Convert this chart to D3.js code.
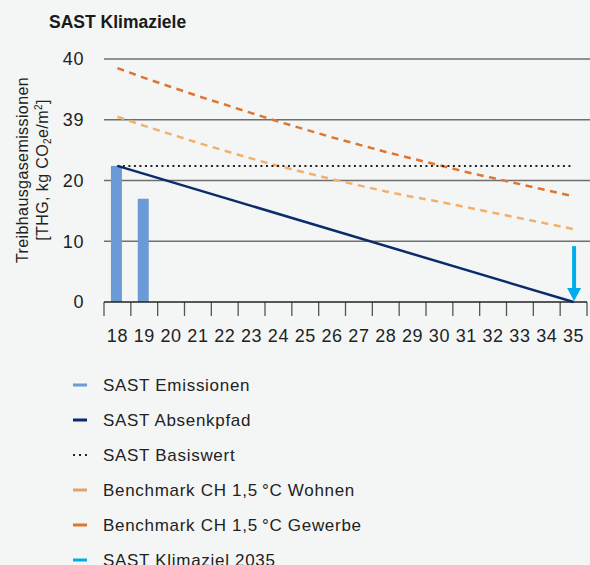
<!DOCTYPE html>
<html><head><meta charset="utf-8">
<script src="https://cdn.jsdelivr.net/npm/d3@7"></script>
<style>
html,body{margin:0;padding:0;background:#f4f6f6;}
svg{display:block;font-family:"Liberation Sans",Arial,sans-serif;}
</style></head>
<body><svg id="c" width="590" height="565"></svg>
<script>
const years = [18,19,20,21,22,23,24,25,26,27,28,29,30,31,32,33,34,35];
const yTickValues = [0,10,20,30,40];
const yTickLabels = ["0","10","20","39","40"];
const emissionYears = [18,19];
const emissionValues = [22.4,17.0];
const pfadYears = [18,35];
const pfadValues = [22.4,0];
const basisYears = [18,35];
const basisValues = [22.4,22.4];
const wohnenValues = [30.5,29.0,27.6,26.2,24.9,23.6,22.4,21.3,20.2,19.2,18.2,17.3,16.5,15.6,14.7,13.8,12.9,12.0];
const gewerbeValues = [38.5,36.9,35.4,33.9,32.5,31.1,29.7,28.4,27.1,25.9,24.7,23.6,22.5,21.4,20.4,19.4,18.4,17.4];
const zielYear = 35;
const zielValues = [9.2,0];
const legendLabels = ["SAST Emissionen","SAST Absenkpfad","SAST Basiswert","Benchmark CH 1,5\u2009°C Wohnen","Benchmark CH 1,5\u2009°C Gewerbe","SAST Klimaziel 2035"];

const C = {em:"#6b9bd6", pfad:"#0b2c6b", basis:"#222", wohnen:"#f3b06c", gewerbe:"#de7530", ziel:"#00adec"};

const svg = d3.select("#c");
const x = d3.scaleBand().domain(years).range([104,587]).padding(0);
const y = d3.scaleLinear().domain([0,40]).range([302,59]);
const cx = d => x(d) + x.bandwidth()/2;

// title
svg.append("text").attr("x",49).attr("y",28).attr("font-weight","bold").attr("font-size",17.5)
  .attr("fill","#1a1a1a").text("SAST Klimaziele");

// grid
const yAxis = d3.axisLeft(y).tickValues(yTickValues).tickSize(0).tickPadding(0)
  .tickFormat((d,i)=>yTickLabels[i]);
const gy = svg.append("g").attr("transform","translate(104,0)").call(yAxis);
gy.select(".domain").remove();
gy.selectAll("text").attr("x",-20).attr("font-size",18).attr("fill","#222").attr("letter-spacing",0.6)
  .attr("font-family","'Liberation Sans',Arial,sans-serif");
svg.append("g").selectAll("line").data(yTickValues.filter(d=>d>0)).join("line")
  .attr("x1",104).attr("x2",590).attr("y1",d=>y(d)).attr("y2",d=>y(d))
  .attr("stroke","#6e6e6e").attr("stroke-width",1.3);

// bars
svg.append("g").selectAll("rect").data(emissionYears).join("rect")
  .attr("x",(d)=>cx(d)-6.5).attr("width",11)
  .attr("y",(d,i)=>y(emissionValues[i])).attr("height",(d,i)=>y(0)-y(emissionValues[i]))
  .attr("fill",C.em);

// x axis
const xAxis = d3.axisBottom(x).tickSize(0).tickPadding(0);
const gx = svg.append("g").attr("transform","translate(0,302)").call(xAxis);
gx.select(".domain").remove();
gx.selectAll("text").attr("y",40).attr("dy",0).attr("font-size",18).attr("fill","#222").attr("letter-spacing",0.6)
  .attr("font-family","'Liberation Sans',Arial,sans-serif");
const bounds = years.map(d=>x(d)).concat([x(years[years.length-1])+x.bandwidth()]);
svg.append("g").selectAll("line").data(bounds).join("line")
  .attr("x1",d=>d).attr("x2",d=>d).attr("y1",302).attr("y2",316)
  .attr("stroke","#555").attr("stroke-width",1.3);
svg.append("line").attr("x1",104).attr("x2",587).attr("y1",y(0)).attr("y2",y(0))
  .attr("stroke","#222").attr("stroke-width",1.5);

// lines
const line = d3.line().x(d=>cx(d[0])).y(d=>y(d[1]));
svg.append("path").attr("d",line(years.map((d,i)=>[d,wohnenValues[i]])))
  .attr("fill","none").attr("stroke",C.wohnen).attr("stroke-width",2.5).attr("stroke-dasharray","7,5.5");
svg.append("path").attr("d",line(years.map((d,i)=>[d,gewerbeValues[i]])))
  .attr("fill","none").attr("stroke",C.gewerbe).attr("stroke-width",2.5).attr("stroke-dasharray","7,5.5");
svg.append("path").attr("d",line(basisYears.map((d,i)=>[d,basisValues[i]])))
  .attr("fill","none").attr("stroke",C.basis).attr("stroke-width",2).attr("stroke-dasharray","2,3.5");
svg.append("path").attr("d",line(pfadYears.map((d,i)=>[d,pfadValues[i]])))
  .attr("fill","none").attr("stroke",C.pfad).attr("stroke-width",2.5);

// arrow
const ax = cx(zielYear)+0.5;
svg.append("line").attr("x1",ax).attr("x2",ax).attr("y1",y(zielValues[0])).attr("y2",y(zielValues[1])-12)
  .attr("stroke",C.ziel).attr("stroke-width",4);
svg.append("path").attr("d",`M${ax-7},${y(zielValues[1])-14}L${ax+7},${y(zielValues[1])-14}L${ax},${y(zielValues[1])-1}Z`)
  .attr("fill",C.ziel);

// y title
const yt = svg.append("text").attr("transform","translate(28,170) rotate(-90)").attr("text-anchor","middle")
  .attr("font-size",16).attr("fill","#222").attr("letter-spacing",0.4);
yt.append("tspan").attr("x",0).attr("y",0).text("Treibhausgasemissionen");
const t2 = yt.append("tspan").attr("x",0).attr("y",20);
t2.text("[THG, kg CO");
yt.append("tspan").attr("font-size",10).attr("dy",3).text("2");
yt.append("tspan").attr("dy",-3).text("e/m");
yt.append("tspan").attr("font-size",10).attr("dy",-6).text("2");
yt.append("tspan").attr("dy",6).text("]");

// legend
const lg = svg.append("g");
const rows = lg.selectAll("g").data(legendLabels).join("g")
  .attr("transform",(d,i)=>`translate(0,${385+i*35})`);
const lcol = [C.em,C.pfad,C.basis,"#dba56c",C.gewerbe,C.ziel];
rows.append("line").attr("x1",73).attr("x2",87).attr("y1",0).attr("y2",0)
  .attr("stroke",(d,i)=>lcol[i]).attr("stroke-width",(d,i)=>i==2?2:3)
  .attr("stroke-dasharray",(d,i)=>i==2?"2,4":null);
rows.append("text").attr("x",103).attr("y",6).attr("font-size",17).attr("letter-spacing",0.7)
  .attr("fill","#222").text(d=>d);
</script></body></html>
